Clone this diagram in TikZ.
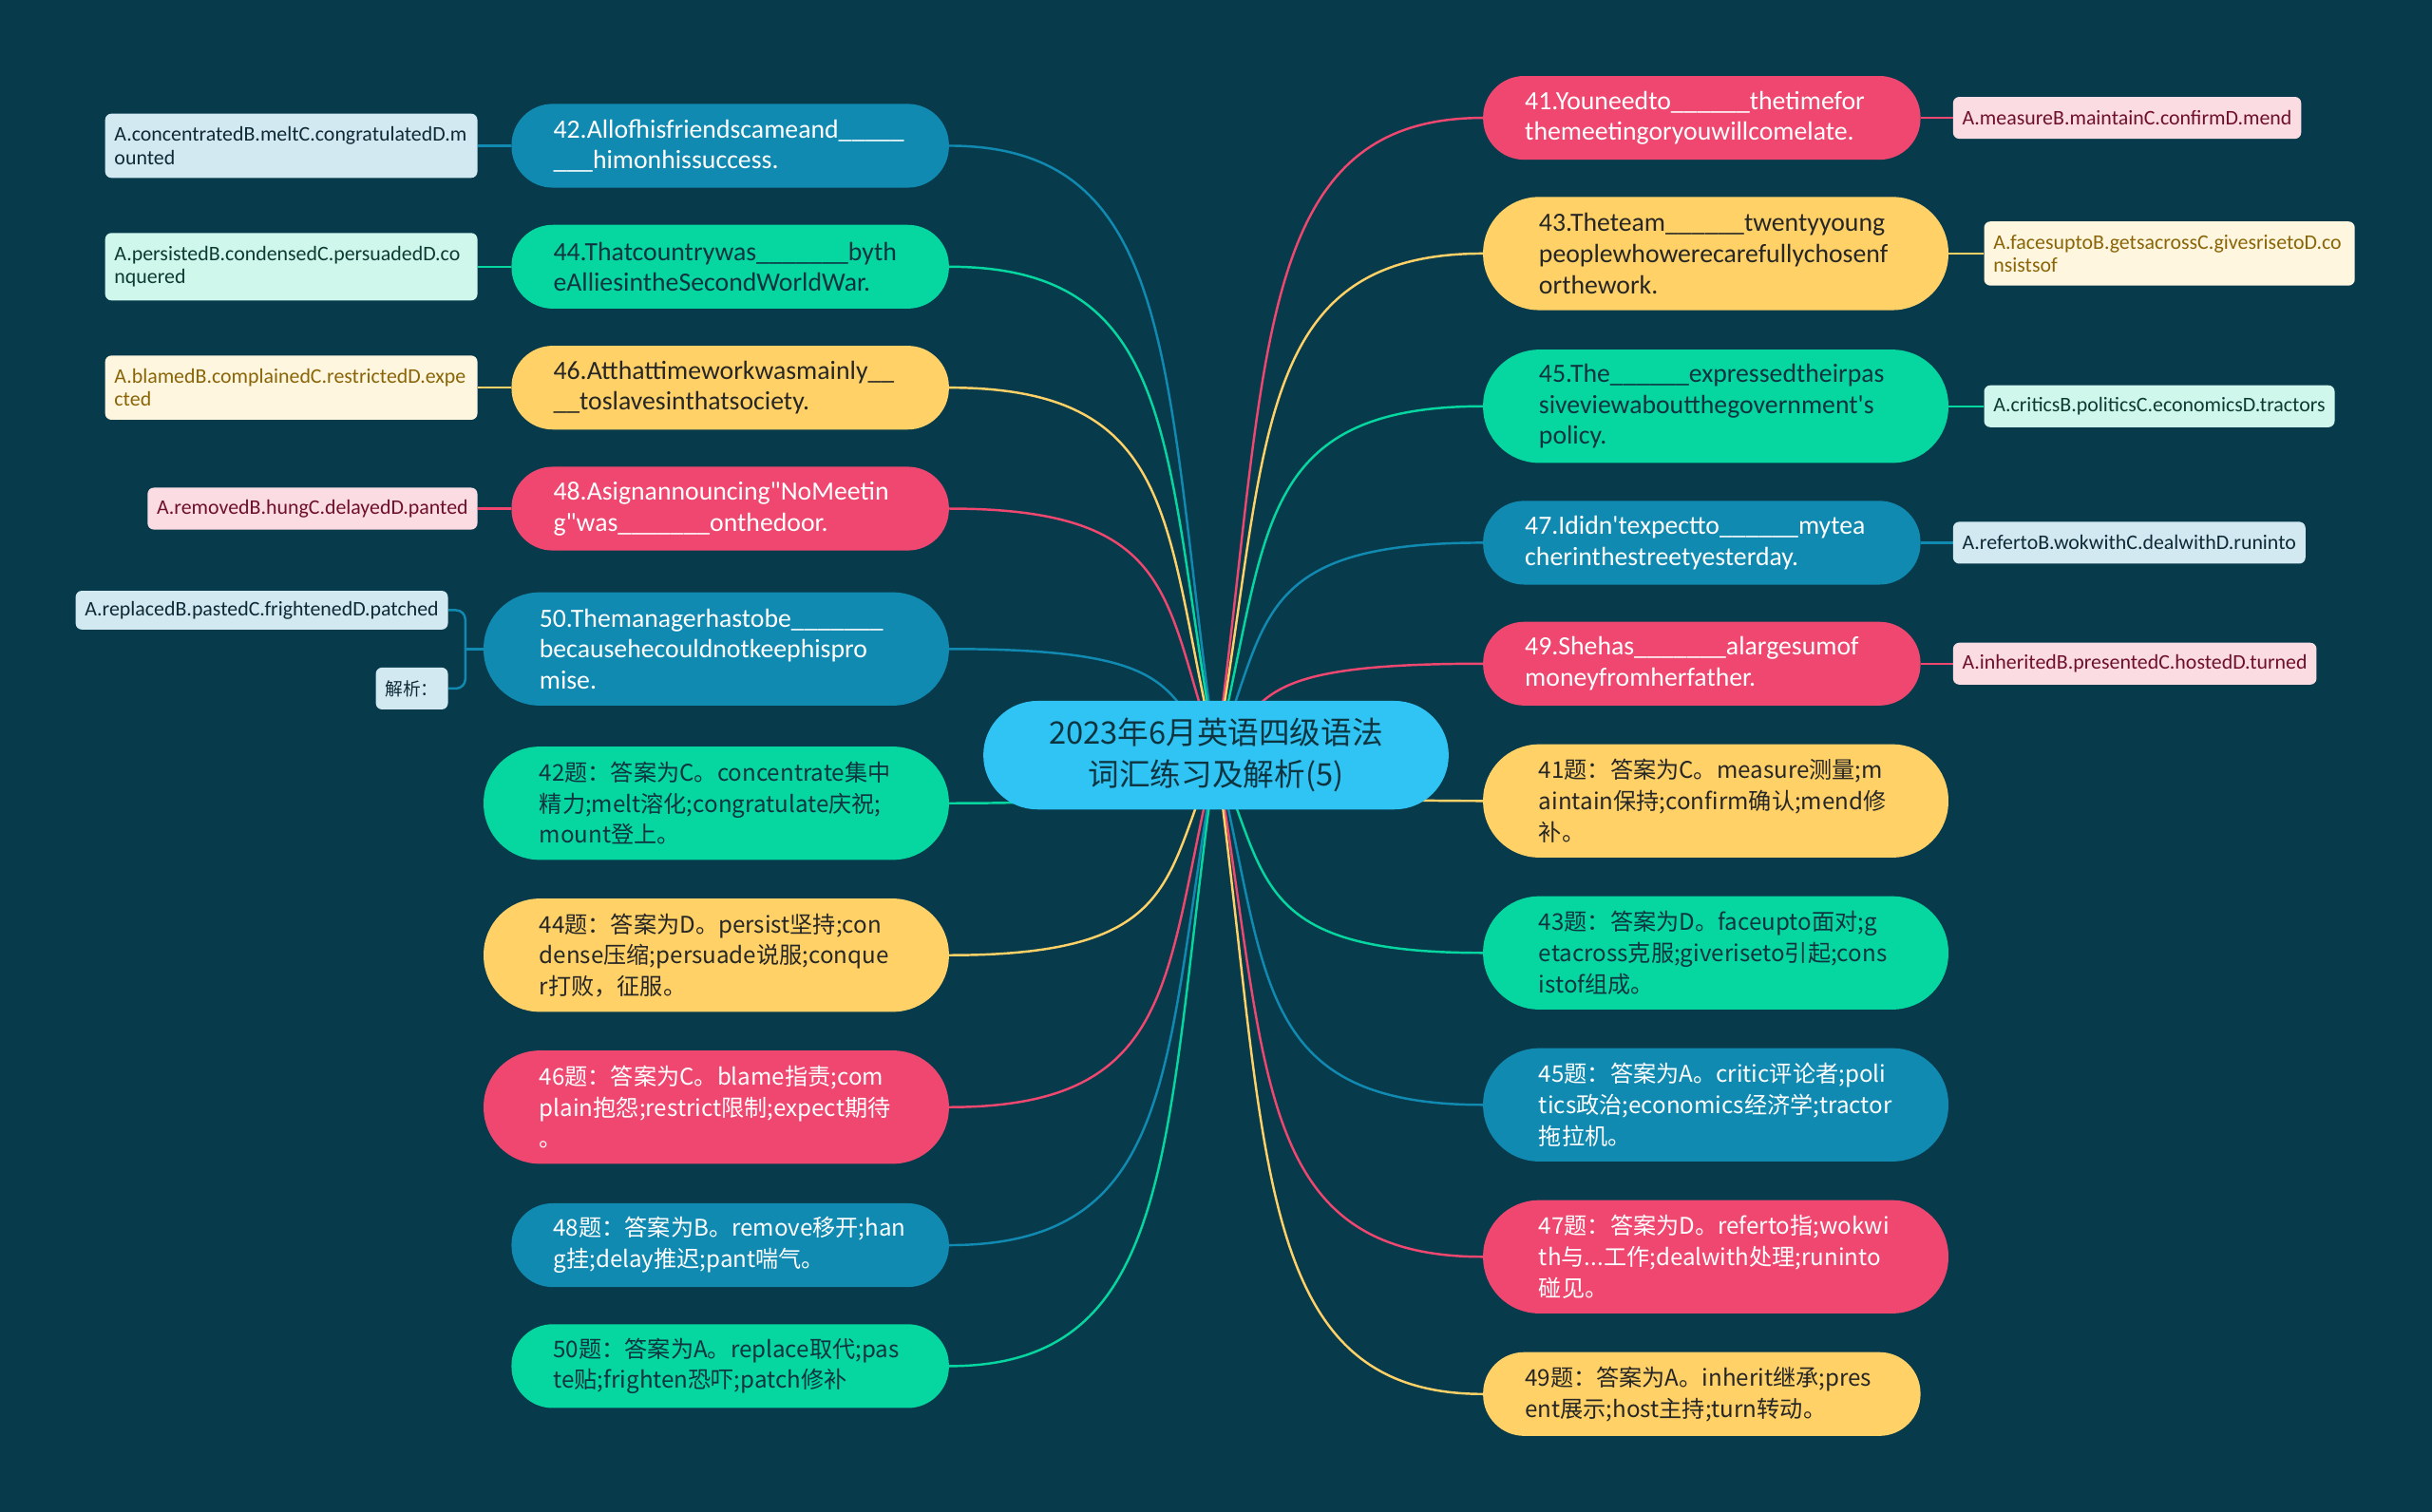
\documentclass[tikz,border=0pt]{standalone}
\usepackage{fontspec}
\newfontfamily\qfont{Carlito}[Ligatures=TeXOff]
\newfontfamily\cjk{Noto Sans CJK SC}
\usetikzlibrary{calc}

\definecolor{cbg}{HTML}{073B4C}
\definecolor{cblue}{HTML}{118AB2}
\definecolor{cgreen}{HTML}{06D6A0}
\definecolor{cyellow}{HTML}{FFD166}
\definecolor{cpink}{HTML}{EF476F}
\definecolor{croot}{HTML}{2FC4F4}
\definecolor{cink}{HTML}{0E3440}
\definecolor{lblue}{HTML}{D3E9F1}
\definecolor{lgreen}{HTML}{CFF7EC}
\definecolor{lyellow}{HTML}{FFF6DF}
\definecolor{lpink}{HTML}{FCDCE3}
\definecolor{tblue}{HTML}{0E2A36}
\definecolor{tgreen}{HTML}{0D3B31}
\definecolor{tyellow}{HTML}{8A6508}
\definecolor{tpink}{HTML}{6E102C}

\pgfdeclarelayer{bg}
\pgfdeclarelayer{links}
\pgfsetlayers{bg,links,main}

\tikzset{
    pill/.style = {rectangle, text width=228pt, align=left},
    pilltwo/.style = {pill, minimum height=54pt, inner xsep=27pt, rounded corners=26.5pt},
    pillthree/.style = {pill, minimum height=73pt, inner xsep=36pt, rounded corners=36pt},
    qtext/.style = {font=\qfont\fontsize{17}{20}\selectfont},
    atext/.style = {font=\cjk\fontsize{14.8}{20}\selectfont},
    blu/.style = {fill=cblue, text=white},
    grn/.style = {fill=cgreen, text=cink},
    ylw/.style = {fill=cyellow, text=black!85},
    pnk/.style = {fill=cpink, text=white},
    leaf/.style = {rectangle, rounded corners=4pt, inner xsep=6pt, inner ysep=4pt,
        minimum height=27pt, font=\qfont\fontsize{13.4}{15}\selectfont},
    leaftwo/.style = {leaf, text width=228pt, align=left, inner ysep=8.5pt},
    lblu/.style = {fill=lblue, text=tblue},
    lgrn/.style = {fill=lgreen, text=tgreen},
    lylw/.style = {fill=lyellow, text=tyellow},
    lpnk/.style = {fill=lpink, text=tpink},
    link/.style = {line width=1.5pt}
}

\begin{document}
\begin{tikzpicture}[x=1pt, y=-1pt]

% background
\begin{pgfonlayer}{bg}
\fill[cbg] (0,0) rectangle (1568,975);
\end{pgfonlayer}
\useasboundingbox (0,0) rectangle (1568,975);

% centre
\node[fill=croot, text=cink, minimum width=300pt, minimum height=70pt, rounded corners=34.9pt,
      align=center, font=\cjk\fontsize{20}{27}\selectfont] (root) at (784,487)
      {2023年6月英语四级语法\\词汇练习及解析(5)};

% left branches: questions
\node[pilltwo, qtext, blu, anchor=east] (q42) at (612,94)
    {42.Allofhisfriendscameand\_\_\_\_\_\\\_\_\_himonhissuccess.};
\node[pilltwo, qtext, grn, anchor=east] (q44) at (612,172)
    {44.Thatcountrywas\_\_\_\_\_\_\_byth\\eAlliesintheSecondWorldWar.};
\node[pilltwo, qtext, ylw, anchor=east] (q46) at (612,250)
    {46.Atthattimeworkwasmainly\_\_\\\_\_toslavesinthatsociety.};
\node[pilltwo, qtext, pnk, anchor=east] (q48) at (612,328)
    {48.Asignannouncing"NoMeetin\\g"was\_\_\_\_\_\_\_onthedoor.};
\node[pillthree, qtext, blu, anchor=east] (q50) at (612,418.5)
    {50.Themanagerhastobe\_\_\_\_\_\_\_\\becausehecouldnotkeephispro\\mise.};

% left branches: answers
\node[pillthree, atext, grn, anchor=east] (a42) at (612,518)
    {42题：答案为C。concentrate集中\\精力;melt溶化;congratulate庆祝;\\mount登上。};
\node[pillthree, atext, ylw, anchor=east] (a44) at (612,616)
    {44题：答案为D。persist坚持;con\\dense压缩;persuade说服;conque\\r打败，征服。};
\node[pillthree, atext, pnk, anchor=east] (a46) at (612,714)
    {46题：答案为C。blame指责;com\\plain抱怨;restrict限制;expect期待\\。};
\node[pilltwo, atext, blu, anchor=east] (a48) at (612,803)
    {48题：答案为B。remove移开;han\\g挂;delay推迟;pant喘气。};
\node[pilltwo, atext, grn, anchor=east] (a50) at (612,881)
    {50题：答案为A。replace取代;pas\\te贴;frighten恐吓;patch修补};

% right branches: questions
\node[pilltwo, qtext, pnk, anchor=west] (q41) at (956,76)
    {41.Youneedto\_\_\_\_\_\_thetimefor\\themeetingoryouwillcomelate.};
\node[pillthree, qtext, ylw, anchor=west] (q43) at (956,163.5)
    {43.Theteam\_\_\_\_\_\_twentyyoung\\peoplewhowerecarefullychosenf\\orthework.};
\node[pillthree, qtext, grn, anchor=west] (q45) at (956,262)
    {45.The\_\_\_\_\_\_expressedtheirpas\\siveviewaboutthegovernment's\\policy.};
\node[pilltwo, qtext, blu, anchor=west] (q47) at (956,350)
    {47.Ididn'texpectto\_\_\_\_\_\_mytea\\cherinthestreetyesterday.};
\node[pilltwo, qtext, pnk, anchor=west] (q49) at (956,428)
    {49.Shehas\_\_\_\_\_\_\_alargesumof\\moneyfromherfather.};

% right branches: answers
\node[pillthree, atext, ylw, anchor=west] (a41) at (956,516.5)
    {41题：答案为C。measure测量;m\\aintain保持;confirm确认;mend修\\补。};
\node[pillthree, atext, grn, anchor=west] (a43) at (956,614.5)
    {43题：答案为D。faceupto面对;g\\etacross克服;giveriseto引起;cons\\istof组成。};
\node[pillthree, atext, blu, anchor=west] (a45) at (956,712.5)
    {45题：答案为A。critic评论者;poli\\tics政治;economics经济学;tractor\\拖拉机。};
\node[pillthree, atext, pnk, anchor=west] (a47) at (956,810.5)
    {47题：答案为D。referto指;wokwi\\th与...工作;dealwith处理;runinto\\碰见。};
\node[pilltwo, atext, ylw, anchor=west] (a49) at (956,899)
    {49题：答案为A。inherit继承;pres\\ent展示;host主持;turn转动。};

% option leaves
\node[leaftwo, lblu, anchor=east] (l42) at (308,94) {A.concentratedB.meltC.congratulatedD.m\\ounted};
\node[leaftwo, lgrn, anchor=east] (l44) at (308,172) {A.persistedB.condensedC.persuadedD.co\\nquered};
\node[leaftwo, lylw, anchor=east] (l46) at (308,250) {A.blamedB.complainedC.restrictedD.expe\\cted};
\node[leaf, lpnk, anchor=east] (l48) at (308,328) {A.removedB.hungC.delayedD.panted};
\node[leaf, lblu, anchor=east, minimum height=25pt] (l50) at (289,393.5) {A.replacedB.pastedC.frightenedD.patched};
\node[leaf, lblu, anchor=east, font=\cjk\fontsize{11.5}{14}\selectfont] (jx) at (289,444) {解析：};
\coordinate (fork) at (300,418.5);

\node[leaf, lpnk, anchor=west] (r41) at (1259,76) {A.measureB.maintainC.confirmD.mend};
\node[leaftwo, lylw, anchor=west, text width=227pt] (r43) at (1279,163.5) {A.facesuptoB.getsacrossC.givesrisetoD.co\\nsistsof};
\node[leaf, lgrn, anchor=west] (r45) at (1279,262) {A.criticsB.politicsC.economicsD.tractors};
\node[leaf, lblu, anchor=west] (r47) at (1259,350) {A.refertoB.wokwithC.dealwithD.runinto};
\node[leaf, lpnk, anchor=west] (r49) at (1259,428) {A.inheritedB.presentedC.hostedD.turned};

% connectors
\begin{pgfonlayer}{links}
\foreach \nd/\side/\col in {q42/east/cblue, q44/east/cgreen, q46/east/cyellow, q48/east/cpink,
    q50/east/cblue, a42/east/cgreen, a44/east/cyellow, a46/east/cpink, a48/east/cblue,
    a50/east/cgreen, q41/west/cpink, q43/west/cyellow, q45/west/cgreen, q47/west/cblue,
    q49/west/cpink, a41/west/cyellow, a43/west/cgreen, a45/west/cblue, a47/west/cpink,
    a49/west/cyellow} {
    \draw[link, \col] let \p1 = (root.center), \p2 = (\nd.\side) in
        (\p1) .. controls ({\x1+0.2*(\x2-\x1)},{\y1+0.62*(\y2-\y1)})
        and ({\x1+0.13*(\x2-\x1)},\y2) .. (\p2);
}
\draw[link, cblue] (q42.west) -- (l42.east);
\draw[link, cgreen] (q44.west) -- (l44.east);
\draw[link, cyellow] (q46.west) -- (l46.east);
\draw[link, cpink] (q48.west) -- (l48.east);
\draw[link, cblue] (q50.west) -- (fork);
\draw[link, cblue, rounded corners=6pt] (l50.east) -| (fork) |- (jx.east);
\draw[link, cpink] (q41.east) -- (r41.west);
\draw[link, cyellow] (q43.east) -- (r43.west);
\draw[link, cgreen] (q45.east) -- (r45.west);
\draw[link, cblue] (q47.east) -- (r47.west);
\draw[link, cpink] (q49.east) -- (r49.west);
\end{pgfonlayer}

\end{tikzpicture}
\end{document}
